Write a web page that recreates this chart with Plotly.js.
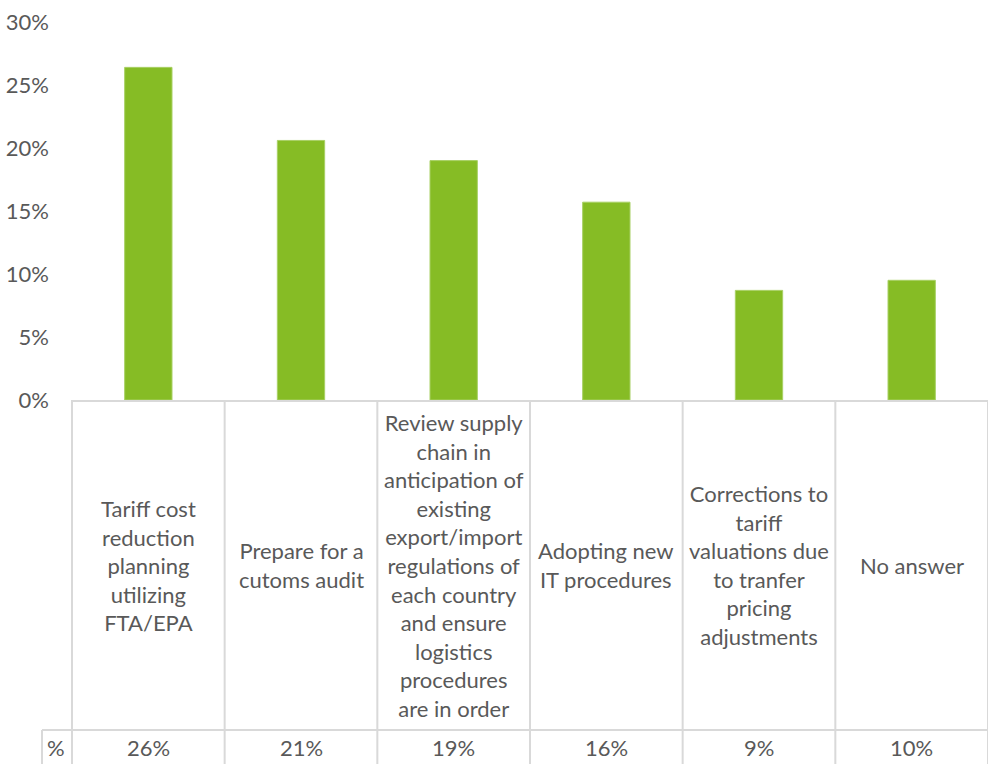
<!DOCTYPE html>
<html>
<head>
<meta charset="utf-8">
<script src="https://cdn.plot.ly/plotly-3.0.1.min.js"></script>
<style>html,body{margin:0;padding:0;background:#fff;}#chart{width:988px;height:764px;}</style>
</head>
<body>
<div id="chart"></div>
<script>
var categories = [
  "Tariff cost<br>reduction<br>planning<br>utilizing<br>FTA/EPA",
  "Prepare for a<br>cutoms audit",
  "Review supply<br>chain in<br>anticipation of<br>existing<br>export/import<br>regulations of<br>each country<br>and ensure<br>logistics<br>procedures<br>are in order",
  "Adopting new<br>IT procedures",
  "Corrections to<br>tariff<br>valuations due<br>to tranfer<br>pricing<br>adjustments",
  "No answer"
];
var values = [26.4, 20.6, 19.0, 15.7, 8.7, 9.5];
var rowLabel = "%";
var yTicks = [0, 5, 10, 15, 20, 25, 30];

var textColor = "#595959";
var lineColor = "#d9d9d9";
var fontFam = "Lato, 'Open Sans', sans-serif";
var fs = 22;
var idx = categories.map(function(_, i){ return i; });

var trace = {
  type: "bar",
  x: idx,
  y: values,
  marker: {color: "#86bc25", line: {color: "#a8d064", width: 1}},
  hoverinfo: "skip"
};

// pixel helpers (layout geometry)
var H = 764, mt = 22, mb = 364;
var plotH = H - mt - mb;
function py(pix){ return (H - mb - pix) / plotH; }
var W = 988, ml = 72, mr = 0;
var plotW = W - ml - mr;
function px(pix){ return (pix - ml) / plotW; }

var n = categories.length;
var shapes = [];
for (var i = 0; i <= n; i++) {
  shapes.push({type: "line", xref: "paper", yref: "paper", x0: i / n, x1: i / n,
    y0: py(400), y1: py(764), line: {color: lineColor, width: 2}});
}
shapes.push({type: "line", xref: "paper", yref: "paper", x0: px(42), x1: 1,
  y0: py(730), y1: py(730), line: {color: lineColor, width: 2}});
shapes.push({type: "line", xref: "paper", yref: "paper", x0: px(42), x1: px(42),
  y0: py(730), y1: py(764), line: {color: lineColor, width: 2}});

var annotations = [];
idx.forEach(function(i){
  annotations.push({xref: "x", yref: "paper", x: i, y: py(565), text: categories[i],
    showarrow: false, xanchor: "center", yanchor: "middle", align: "center",
    font: {family: fontFam, size: fs, color: textColor}});
  annotations.push({xref: "x", yref: "paper", x: i, y: py(748), text: Math.round(values[i]) + "%",
    showarrow: false, xanchor: "center", yanchor: "middle",
    font: {family: fontFam, size: fs, color: textColor}});
});
annotations.push({xref: "paper", yref: "paper", x: px(56), y: py(748), text: rowLabel,
  showarrow: false, xanchor: "center", yanchor: "middle",
  font: {family: fontFam, size: fs, color: textColor}});

var layout = {
  width: W, height: H,
  margin: {l: ml, r: mr, t: mt, b: mb},
  paper_bgcolor: "#fff", plot_bgcolor: "#fff",
  showlegend: false,
  bargap: 0.69,
  xaxis: {range: [-0.5, n - 0.5], showticklabels: false, ticks: "", showgrid: false,
    zeroline: false, showline: true, linecolor: lineColor, linewidth: 2, fixedrange: true},
  yaxis: {range: [0, 30], tickvals: yTicks, ticktext: yTicks.map(function(v){ return v + "%"; }),
    showgrid: false, zeroline: false, showline: false, ticks: "",
    ticklabelstandoff: 22,
    tickfont: {family: fontFam, size: fs, color: textColor}, fixedrange: true},
  shapes: shapes,
  annotations: annotations
};

Plotly.newPlot("chart", [trace], layout, {displayModeBar: false, staticPlot: true});
</script>
</body>
</html>
